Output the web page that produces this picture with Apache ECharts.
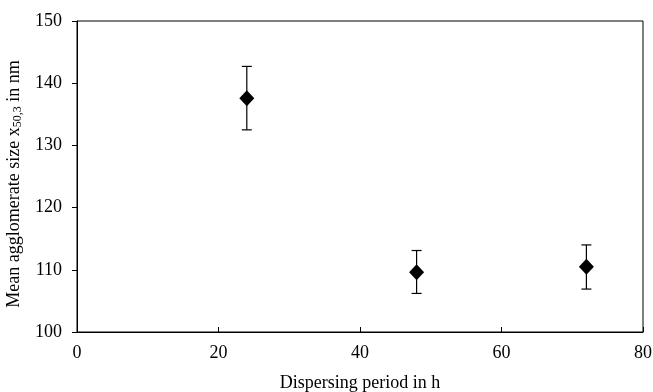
<!DOCTYPE html>
<html lang="en">
<head>
    <meta charset="UTF-8">
    <script type="text/javascript" src="https://cdn.jsdelivr.net/npm/echarts@6/dist/echarts.min.js"></script>
    <title>Agglomerate size</title>
    <style>
        html, body { margin: 0; padding: 0; background: #fff; }
    </style>
</head>
<body>
    <div id="main" style="width:653px; height:392px;"></div>
<script>
// data
var periods = [24, 48, 72];
var meanSize = [137.6, 109.6, 110.5];
var errLow = [132.5, 106.2, 106.9];
var errHigh = [142.7, 113.1, 114.0];
var xTicks = [0, 20, 40, 60, 80];
var yTicks = [100, 110, 120, 130, 140, 150];

var font = '"Liberation Serif", "Times New Roman", serif';

var points = [];
var bars = [];
for (var i = 0; i < periods.length; i++) {
    points.push([periods[i], meanSize[i]]);
    bars.push([periods[i], errLow[i], errHigh[i]]);
}

option = {
    animation: false,
    grid: {
        left: 77, right: 10, top: 21, bottom: 60,
        outerBoundsMode: 'none',
        containLabel: false,
        show: true,
        borderColor: '#000',
        borderWidth: 1
    },
    xAxis: {
        type: 'value',
        min: xTicks[0],
        max: xTicks[xTicks.length - 1],
        interval: 20,
        name: 'Dispersing period in h',
        nameLocation: 'middle',
        nameGap: 42,
        nameTextStyle: { fontFamily: font, fontSize: 18, color: '#000' },
        axisLine: { lineStyle: { color: '#000', width: 1 } },
        axisTick: { show: true, inside: true, length: 5, lineStyle: { color: '#000' } },
        axisLabel: { fontFamily: font, fontSize: 18, color: '#000', margin: 12 },
        splitLine: { show: false }
    },
    yAxis: {
        type: 'value',
        min: yTicks[0],
        max: yTicks[yTicks.length - 1],
        interval: 10,
        name: '{n|Mean agglomerate size x}{s|50,3}{n| in nm}',
        nameLocation: 'middle',
        nameGap: 47,
        nameRotate: 90,
        nameTextStyle: {
            padding: [0, 15, 0, 0],
            rich: {
                n: { fontFamily: font, fontSize: 18, color: '#000' },
                s: { fontFamily: font, fontSize: 12, color: '#000', padding: [8, 0, 0, 0] }
            }
        },
        axisLine: { show: true, lineStyle: { color: '#000', width: 1 } },
        axisTick: { show: true, inside: false, length: 5, lineStyle: { color: '#000' } },
        axisLabel: { fontFamily: font, fontSize: 18, color: '#000', margin: 15 },
        splitLine: { show: false }
    },
    series: [
        {
            type: 'custom',
            data: bars,
            z: 2,
            renderItem: function (params, api) {
                var x = api.value(0);
                var lo = api.coord([x, api.value(1)]);
                var hi = api.coord([x, api.value(2)]);
                var w = 5;
                var st = { stroke: '#000', lineWidth: 1.2 };
                return {
                    type: 'group',
                    children: [
                        { type: 'line', shape: { x1: lo[0], y1: lo[1], x2: hi[0], y2: hi[1] }, style: st },
                        { type: 'line', shape: { x1: lo[0] - w, y1: lo[1], x2: lo[0] + w, y2: lo[1] }, style: st },
                        { type: 'line', shape: { x1: hi[0] - w, y1: hi[1], x2: hi[0] + w, y2: hi[1] }, style: st }
                    ]
                };
            }
        },
        {
            type: 'scatter',
            data: points,
            z: 3,
            symbol: 'diamond',
            symbolSize: [15, 16],
            itemStyle: { color: '#000', opacity: 1 }
        }
    ]
};

var myChart = echarts.init(document.getElementById('main'));
myChart.setOption(option);
</script>
</body>
</html>
